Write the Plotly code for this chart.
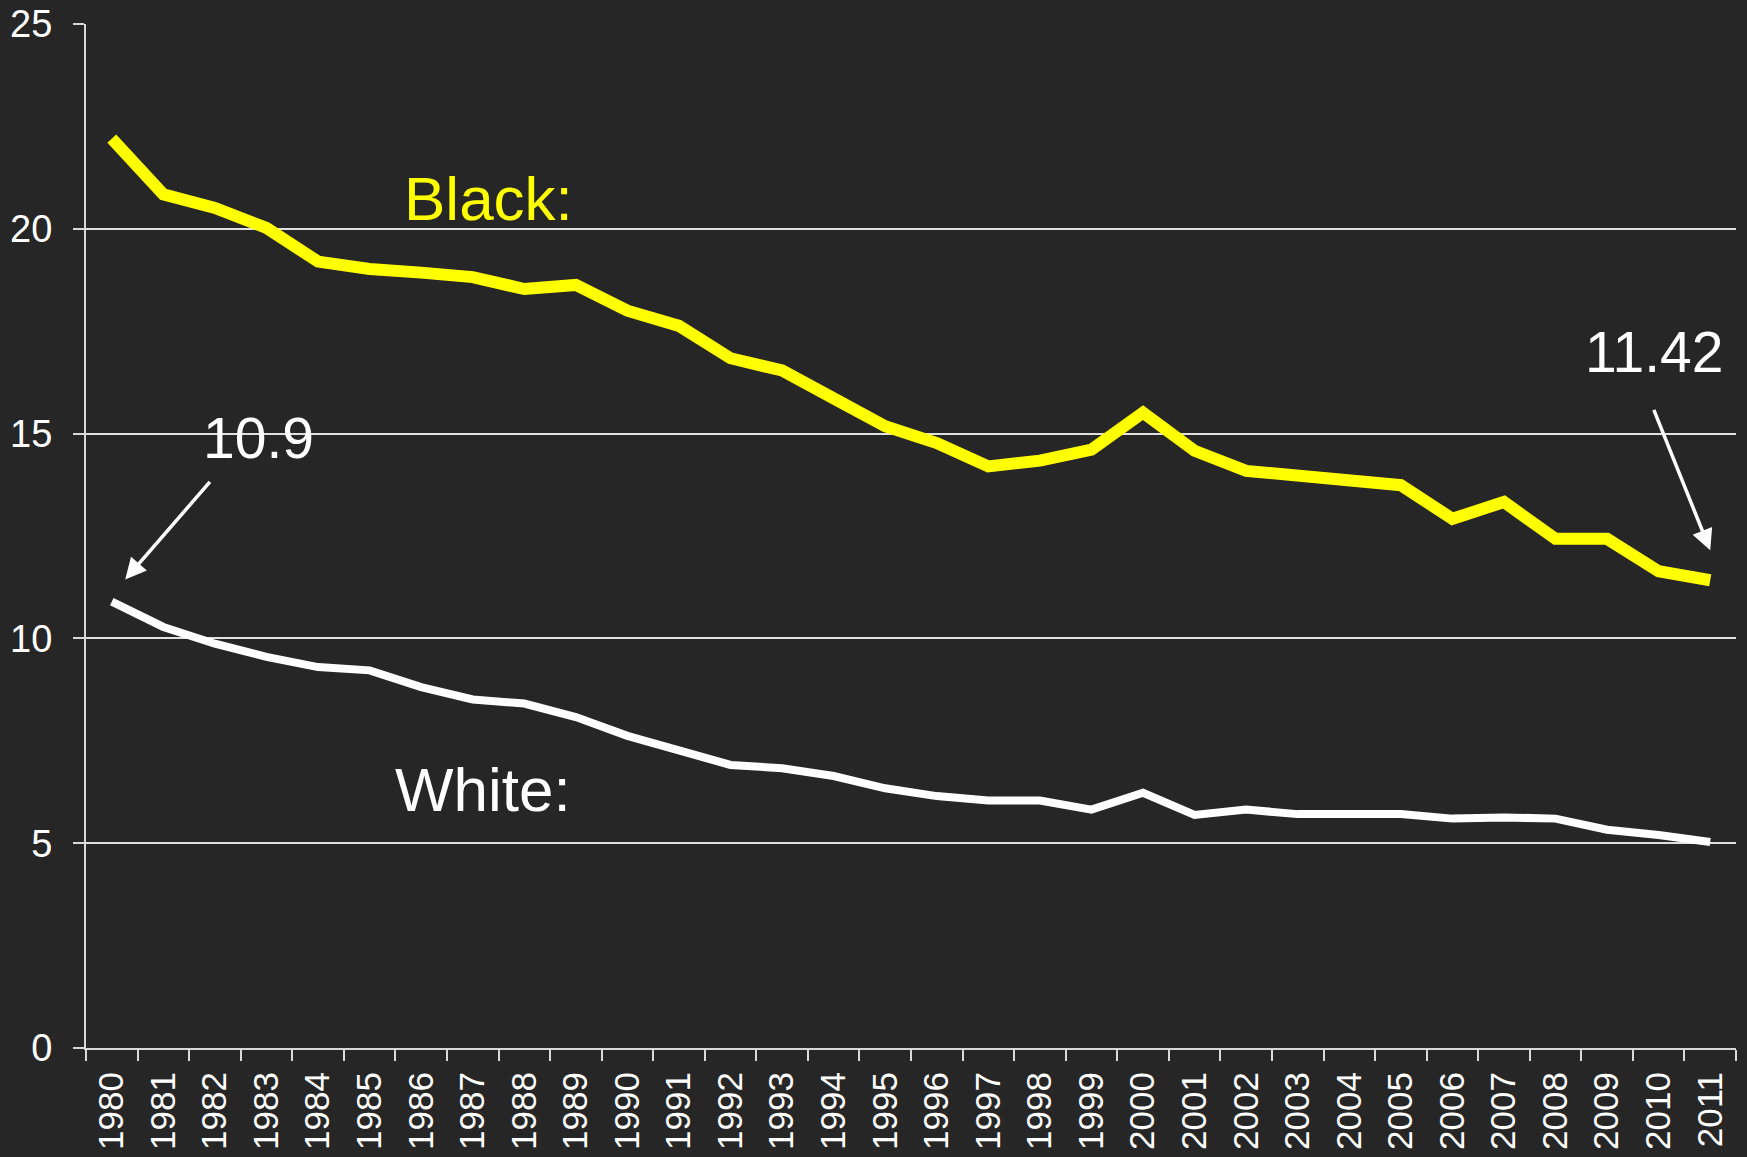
import plotly.graph_objects as go

years = [str(y) for y in range(1980, 2012)]
black = [22.2, 20.84, 20.51, 20.02, 19.2, 19.02, 18.93, 18.82, 18.53, 18.63,
         18.0, 17.63, 16.84, 16.54, 15.86, 15.18, 14.77, 14.2, 14.34, 14.61,
         15.51, 14.58, 14.09, 13.98, 13.82, 13.74, 12.92, 13.33, 12.43, 12.43,
         11.64, 11.42]
white = [10.9, 10.28, 9.87, 9.55, 9.3, 9.22, 8.81, 8.51, 8.41, 8.08,
         7.62, 7.29, 6.91, 6.83, 6.64, 6.34, 6.15, 6.04, 6.04, 5.82,
         6.23, 5.69, 5.82, 5.71, 5.71, 5.71, 5.6, 5.63, 5.6, 5.33,
         5.2, 5.03]
y_ticks = [0, 5, 10, 15, 20, 25]

BG = "#262626"
FONT = "Liberation Sans, Arial, sans-serif"

fig = go.Figure()
fig.add_trace(go.Scatter(x=years, y=black, mode="lines", name="Black",
                         line=dict(color="#ffff00", width=12)))
fig.add_trace(go.Scatter(x=years, y=white, mode="lines", name="White",
                         line=dict(color="#ffffff", width=8)))

annotations = [
    dict(x=7.3, y=20.75, xref="x", yref="y", text="Black:", showarrow=False,
         font=dict(color="#ffff00", size=62, family=FONT)),
    dict(x=7.2, y=6.3, xref="x", yref="y", text="White:", showarrow=False,
         font=dict(color="#ffffff", size=62, family=FONT)),
    dict(x=2.85, y=14.9, xref="x", yref="y", text=f"{white[0]}", showarrow=False,
         font=dict(color="#ffffff", size=57, family=FONT)),
    dict(x=29.9, y=17.0, xref="x", yref="y", text=f"{black[-1]}", showarrow=False,
         font=dict(color="#ffffff", size=57, family=FONT)),
    dict(x=0.26, y=11.44, xref="x", yref="y", text="", showarrow=True,
         ax=86, ay=-99, arrowhead=2, arrowsize=1.2, arrowwidth=3.5,
         arrowcolor="#ffffff"),
    dict(x=31.0, y=12.15, xref="x", yref="y", text="", showarrow=True,
         ax=-57, ay=-142, arrowhead=2, arrowsize=1.2, arrowwidth=3.5,
         arrowcolor="#ffffff"),
]

fig.update_layout(
    width=1747, height=1157,
    margin=dict(l=86, r=11, t=24, b=109, autoexpand=False),
    paper_bgcolor=BG, plot_bgcolor=BG,
    showlegend=False,
    font=dict(family=FONT, color="#ffffff", size=35),
    annotations=annotations,
    xaxis=dict(
        type="category", range=[-0.5, 31.5], tickson="boundaries",
        ticks="outside", ticklen=11, tickwidth=2, tickcolor="#d9d9d9",
        showline=True, linecolor="#d9d9d9", linewidth=2, automargin=False,
        showgrid=False, tickangle=-90, ticklabelstandoff=8,
        tickfont=dict(size=35, color="#ffffff", family=FONT),
    ),
    yaxis=dict(
        range=[0, 25], tickvals=y_ticks, ticktext=[str(v) for v in y_ticks],
        ticks="outside", ticklen=11, tickwidth=2, tickcolor="#d9d9d9",
        showline=True, linecolor="#d9d9d9", linewidth=2, automargin=False,
        showgrid=True, gridcolor="#e0e0e0", gridwidth=1.5,
        zeroline=False, ticklabelstandoff=13,
        tickfont=dict(size=38, color="#ffffff", family=FONT),
    ),
)

fig.write_html("out.html")
